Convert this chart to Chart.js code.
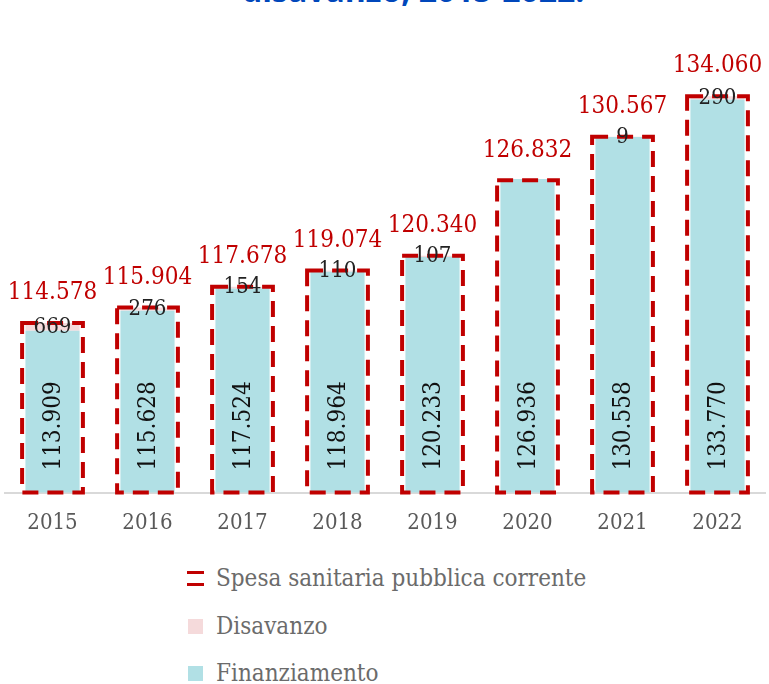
<!DOCTYPE html>
<html>
<head>
<meta charset="utf-8">
<script src="https://cdn.jsdelivr.net/npm/chart.js@4/dist/chart.umd.min.js"></script>
<style>
  body { margin: 0; background: #fff; width: 769px; height: 684px; overflow: hidden; position: relative; }
  #title { position: absolute; left: 242px; top: -32px; font: bold 32px "Open Sans", sans-serif; color: #0047BB; white-space: nowrap; }
  #wrap { position: absolute; left: 0; top: 0; width: 769px; height: 545px; }
  #legend { position: absolute; left: 187px; top: 555px; font: 24px "DejaVu Serif Condensed", "DejaVu Serif", serif; color: #6b6b6b; }
  #legend div { height: 47.5px; line-height: 47.5px; display: flex; align-items: center; }
  .sw { width: 15px; height: 15px; margin-right: 13px; margin-left: 1px; }
  .dash { width: 17px; height: 15px; margin-right: 12px; border-top: 3px solid #C00000; border-bottom: 3px solid #C00000; box-sizing: border-box; }
</style>
</head>
<body>
<div id="title">disavanzo, 2015-2022.</div>
<div id="wrap"><canvas id="chart"></canvas></div>
<div id="legend"></div>
<script>
const years = ['2015', '2016', '2017', '2018', '2019', '2020', '2021', '2022'];
const spesa = [114578, 115904, 117678, 119074, 120340, 126832, 130567, 134060];
const disavanzo = [669, 276, 154, 110, 107, 0, 9, 290];
const finanziamento = [113909, 115628, 117524, 118964, 120233, 126936, 130558, 133770];

const RED = '#C00000';
const PINK = '#F5DADB';
const TEAL = '#B1E0E5';
const FONT = '"DejaVu Serif Condensed", "DejaVu Serif", serif';

// 114578 -> "114.578"
function fmt(v) {
    if (v < 1000) return String(v);
    const r = v % 1000;
    return Math.floor(v / 1000) + '.' + String(r).padStart(3, '0');
}

const labelPlugin = {
    id: 'labels',
    afterDatasetsDraw(chart) {
        const ctx = chart.ctx;
        const area = chart.chartArea;
        ctx.save();

        // dashed outline for the total
        const spesaMeta = chart.getDatasetMeta(2);
        spesaMeta.data.forEach(el => {
            const left = el.x - el.width / 2;
            ctx.setLineDash([16, 9]);
            ctx.lineWidth = 4;
            ctx.strokeStyle = RED;
            ctx.strokeRect(left, el.y, el.width, area.bottom - el.y);
        });
        ctx.setLineDash([]);

        // vertical labels inside Finanziamento
        ctx.fillStyle = '#111';
        ctx.font = '24px ' + FONT;
        ctx.textAlign = 'left';
        ctx.textBaseline = 'middle';
        chart.getDatasetMeta(0).data.forEach((el, i) => {
            ctx.save();
            ctx.translate(el.x, area.bottom - 22);
            ctx.rotate(-Math.PI / 2);
            ctx.fillText(fmt(finanziamento[i]), 0, 1);
            ctx.restore();
        });

        // Disavanzo labels
        ctx.font = '22px ' + FONT;
        ctx.textAlign = 'center';
        chart.getDatasetMeta(1).data.forEach((el, i) => {
            if (!disavanzo[i]) return;
            ctx.fillStyle = '#222';
            ctx.fillText(String(disavanzo[i]), el.x, (el.y + el.base) / 2);
        });

        // totals
        ctx.font = '24px ' + FONT;
        ctx.fillStyle = RED;
        spesaMeta.data.forEach((el, i) => {
            ctx.fillText(fmt(spesa[i]), el.x, el.y - 30);
        });
        ctx.restore();
    }
};

new Chart(document.getElementById('chart'), {
    type: 'bar',
    data: {
        labels: years,
        datasets: [
            { label: 'Finanziamento', data: finanziamento, backgroundColor: TEAL, stack: 'a',
              barPercentage: 0.57, categoryPercentage: 1, grouped: false },
            { label: 'Disavanzo', data: disavanzo, backgroundColor: PINK, stack: 'a',
              barPercentage: 0.57, categoryPercentage: 1, grouped: false },
            { label: 'Spesa sanitaria pubblica corrente', data: spesa, backgroundColor: 'rgba(0,0,0,0)',
              stack: 'b', barPercentage: 0.64, categoryPercentage: 1, grouped: false }
        ]
    },
    options: {
        responsive: true,
        maintainAspectRatio: false,
        animation: false,
        layout: { padding: { top: 27, left: 5, right: 4, bottom: 0 } },
        plugins: { legend: { display: false }, tooltip: { enabled: false } },
        scales: {
            x: {
                stacked: true,
                grid: { display: false },
                border: { color: '#d9d9d9', width: 2 },
                ticks: { color: '#595959', font: { family: FONT, size: 22 }, padding: 9 }
            },
            y: {
                stacked: true,
                display: false,
                min: 100000,
                max: 140000
            }
        }
    },
    plugins: [labelPlugin]
});

// legend built from the datasets
const legend = document.getElementById('legend');
legend.innerHTML = `
    <div><span class="dash"></span>Spesa sanitaria pubblica corrente</div>
    <div><span class="sw" style="background:${PINK}"></span>Disavanzo</div>
    <div><span class="sw" style="background:${TEAL}"></span>Finanziamento</div>
`;
</script>
</body>
</html>
